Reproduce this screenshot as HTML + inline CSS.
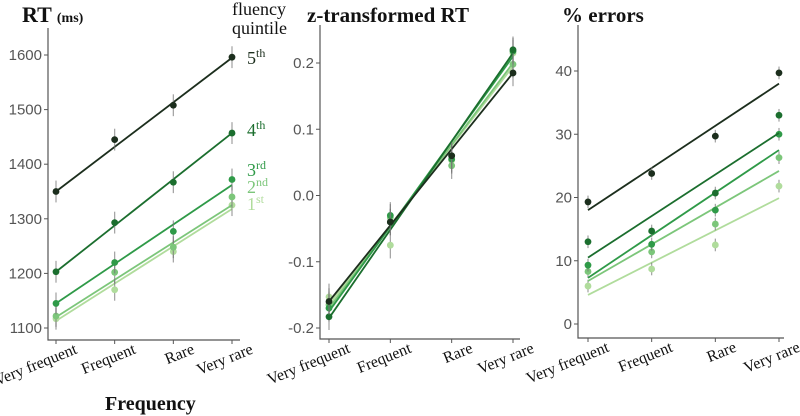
<!DOCTYPE html>
<html><head><meta charset="utf-8">
<style>
body{margin:0;background:#fff;}
svg{display:block;}
.tick{font-family:"Liberation Sans",sans-serif;font-size:15px;fill:#555;}
.xl{font-family:"Liberation Serif",serif;font-size:16px;fill:#111;}
.ttl{font-family:"Liberation Serif",serif;font-weight:bold;fill:#111;}
.leg{font-family:"Liberation Serif",serif;font-size:18px;}
</style></head>
<body>
<svg id="chart" width="800" height="416" viewBox="0 0 800 416">
<text class="ttl" x="22" y="22" font-size="22">RT <tspan font-size="14">(ms)</tspan></text>
<text class="ttl" x="307" y="22" font-size="21">z-transformed RT</text>
<text class="ttl" x="562" y="22" font-size="21">% errors</text>
<text class="ttl" x="105" y="410" font-size="20">Frequency</text>
<text class="leg" x="232" y="15" fill="#111" font-size="17">fluency</text>
<text class="leg" x="232" y="34" fill="#111" font-size="17">quintile</text>
</svg>
<script>
const categories=["Very frequent","Frequent","Rare","Very rare"];
const quintiles=["1st","2nd","3rd","4th","5th"];
const colors=["#b0dc9c","#7cc67a","#2f9a48","#1b6e2e","#1c2e1d"];
// RT panel
const rtPoints=[[1117,1170,1240,1325],[1122,1202,1248,1340],[1145,1220,1277,1372],[1203,1293,1367,1457],[1350,1445,1508,1596]];
const rtFit=[[1113,1318],[1120,1325],[1145,1362],[1203,1457],[1350,1595]];
const rtTicks=[1100,1200,1300,1400,1500,1600];
// z panel
const zPoints=[[-0.153,-0.075,0.053,0.215],[-0.165,-0.033,0.045,0.198],[-0.17,-0.03,0.055,0.218],[-0.183,-0.04,0.06,0.22],[-0.16,-0.04,0.06,0.185]];
const zFit=[[-0.165,0.195],[-0.17,0.2],[-0.175,0.21],[-0.185,0.215],[-0.16,0.185]];
const zTicks=[-0.2,-0.1,0.0,0.1,0.2];
const zTickLabels=["-0.2","-0.1","0.0","0.1","0.2"];
// errors panel
const errPoints=[[6,8.7,12.5,21.8],[8.3,11.4,15.8,26.3],[9.3,12.6,18,30],[13,14.7,20.7,33],[19.3,23.8,29.7,39.7]];
const errFit=[[4.6,19.9],[6.8,24.2],[7.3,27.5],[10.5,30.2],[18,38]];
const errTicks=[0,10,20,30,40];
const rtErr=20, zErr=0.02, eErr=1.0;

const svg=document.getElementById('chart');
const NS='http://www.w3.org/2000/svg';
function mk(tag,attrs,parent){const e=document.createElementNS(NS,tag);for(const k in attrs)e.setAttribute(k,attrs[k]);(parent||svg).appendChild(e);return e;}

function panel(name,cfg){
  const g=mk('g',{});
  
  
  const y=v=>cfg.y0+(v-cfg.v0)*(cfg.y1-cfg.y0)/(cfg.v1-cfg.v0);
  const x=i=>cfg.xs[0]+i*(cfg.xs[1]-cfg.xs[0])/3;
  const ax=mk('path',{d:`M${cfg.ax},${cfg.top}V${cfg.bot}H${cfg.right}`,stroke:'#555',fill:'none','stroke-width':1.2},g);
  
  
  cfg.ticks.forEach((t,i)=>{
    mk('line',{x1:cfg.ax-4,x2:cfg.ax,y1:y(t),y2:y(t),stroke:'#555'},g);
    const tx=mk('text',{x:cfg.ax-6,y:y(t)+5,'text-anchor':'end',class:'tick'},g);
    tx.textContent=cfg.labels?cfg.labels[i]:String(t);
    
    
  });
  categories.forEach((c,i)=>{
    mk('line',{x1:x(i),x2:x(i),y1:cfg.bot,y2:cfg.bot+4,stroke:'#555'},g);
    const ex=x(i)+22, ey=cfg.bot+13;
    const tx=mk('text',{x:ex,y:ey,'text-anchor':'end',class:'xl',transform:`rotate(-22 ${ex} ${ey})`},g);
    tx.textContent=c;
    
    
  });
  cfg.pts.forEach((row,s)=>{
    const ln=mk('line',{x1:x(0),x2:x(3),y1:y(cfg.fit[s][0]),y2:y(cfg.fit[s][1]),stroke:colors[s],'stroke-width':1.8},g);
    
    
    row.forEach((v,i)=>{
      const eb=mk('line',{x1:x(i),x2:x(i),y1:y(v-cfg.err),y2:y(v+cfg.err),stroke:'#777','stroke-width':1.2,opacity:0.7},g);
      
      
      const p=mk('circle',{cx:x(i),cy:y(v),r:3.4,fill:colors[s]},g);
      
      
    });
  });
}
panel('rt',{v0:1100,v1:1600,y0:328,y1:55,xs:[56,232],ax:48,top:28,bot:340,right:240,ticks:rtTicks,pts:rtPoints,fit:rtFit,err:rtErr});
panel('z',{v0:-0.2,v1:0.2,y0:328,y1:63,xs:[329,513],ax:320,top:25,bot:339,right:520,ticks:zTicks,labels:zTickLabels,pts:zPoints,fit:zFit,err:zErr});
panel('errors',{v0:0,v1:40,y0:324,y1:71,xs:[588,779],ax:578,top:25,bot:338,right:784,ticks:errTicks,pts:errPoints,fit:errFit,err:eErr});

const legY=[210,193,176,136,64];
const legTxt=[["1","st"],["2","nd"],["3","rd"],["4","th"],["5","th"]];
legTxt.forEach((l,i)=>{
  const t=mk('text',{x:247,y:legY[i],class:'leg',fill:colors[i]});
  
  
  t.innerHTML=l[0]+'<tspan font-size="12" dy="-7">'+l[1]+'</tspan>';
});
</script>
</body></html>
